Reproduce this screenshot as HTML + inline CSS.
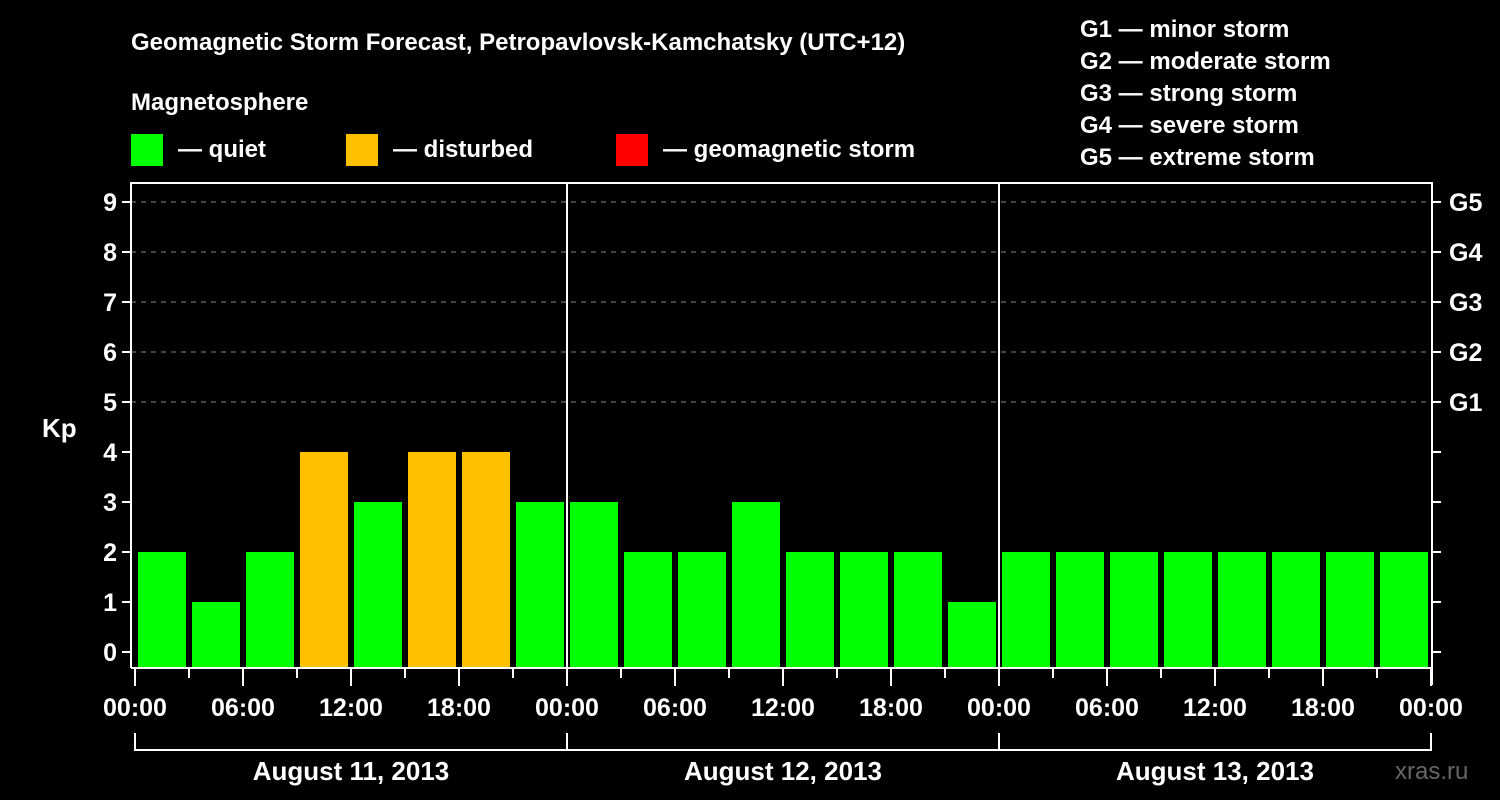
<!DOCTYPE html>
<html><head><meta charset="utf-8"><style>
html,body{margin:0;padding:0;background:#000;}
svg{display:block;font-family:"Liberation Sans",Arial,sans-serif;font-weight:bold;}
</style></head><body>
<svg id="chart" width="1500" height="800" xmlns="http://www.w3.org/2000/svg">
<rect width="1500" height="800" fill="#000"/>
<text x="131" y="50" fill="#fff" font-size="24">Geomagnetic Storm Forecast, Petropavlovsk-Kamchatsky (UTC+12)</text>
<g fill="#fff" font-size="24">
<text x="1080" y="37">G1 — minor storm</text>
<text x="1080" y="69">G2 — moderate storm</text>
<text x="1080" y="101">G3 — strong storm</text>
<text x="1080" y="133">G4 — severe storm</text>
<text x="1080" y="165">G5 — extreme storm</text>
</g>
<text x="131" y="110" fill="#fff" font-size="24">Magnetosphere</text>
<g><rect x="131" y="134" width="32" height="32" fill="#00ff00"/><text x="178" y="157" fill="#fff" font-size="24">— quiet</text></g>
<g><rect x="346" y="134" width="32" height="32" fill="#ffc000"/><text x="393" y="157" fill="#fff" font-size="24">— disturbed</text></g>
<g><rect x="616" y="134" width="32" height="32" fill="#ff0000"/><text x="663" y="157" fill="#fff" font-size="24">— geomagnetic storm</text></g>
<text x="42" y="437" fill="#fff" font-size="26">Kp</text>
<text x="1395" y="779" fill="#666" font-size="24" font-weight="normal">xras.ru</text>
<g id="plot"></g>
</svg>
<script>
const kpValues = [2,1,2,4,3,4,4,3, 3,2,2,3,2,2,2,1, 2,2,2,2,2,2,2,2];
const dayLabels = ["August 11, 2013","August 12, 2013","August 13, 2013"];
const hourLabels = ["00:00","06:00","12:00","18:00"];
const gLabels = ["G1","G2","G3","G4","G5"];
const yTicks = [0,1,2,3,4,5,6,7,8,9];

const NS="http://www.w3.org/2000/svg";
const g=document.getElementById('plot');
const X0=135, PX_PER_H=18, Y0=652, PX_PER_KP=50, TOP=183, BOTTOM=668, LEFT=131, RIGHT=1432;
const x=h=>X0+h*PX_PER_H;
const y=v=>Y0-v*PX_PER_KP;
function el(t,a){const e=document.createElementNS(NS,t);for(const k in a)e.setAttribute(k,a[k]);g.appendChild(e);return e;}
// grid
yTicks.forEach(v=>{
  if(v>=5){const l=el('line',{x1:LEFT,x2:RIGHT,y1:y(v),y2:y(v),stroke:'#888','stroke-width':1,'stroke-dasharray':'5,5'});
  
  }
  const t=el('line',{x1:LEFT-9,x2:LEFT,y1:y(v),y2:y(v),stroke:'#fff','stroke-width':2});
  
  
  const t2=el('line',{x1:RIGHT,x2:RIGHT+9,y1:y(v),y2:y(v),stroke:'#fff','stroke-width':2});
  
  
  const lb=el('text',{x:LEFT-14,y:y(v)+9,fill:'#fff','font-size':25,'text-anchor':'end'});
  lb.textContent=v;
  
  
});
gLabels.forEach((s,i)=>{
  const lb=el('text',{x:RIGHT+17,y:y(5+i)+9,fill:'#fff','font-size':25});
  lb.textContent=s;
  
  
});
// bars
kpValues.forEach((v,i)=>{
  const r=el('rect',{x:x(i*3)+3,y:y(v),width:3*PX_PER_H-6,height:BOTTOM-y(v),fill:v>=5?'#ff0000':(v>=4?'#ffc000':'#00ff00')});
  
  
});
// frame
const f=el('path',{d:`M${LEFT} ${BOTTOM} V${TOP} H${RIGHT} V${BOTTOM+17} M${LEFT} ${BOTTOM} H${RIGHT}`,fill:'none',stroke:'#fff','stroke-width':2});


dayLabels.forEach((d,di)=>{
  if(di>0){const s=el('line',{x1:x(di*24),x2:x(di*24),y1:TOP,y2:BOTTOM,stroke:'#fff','stroke-width':2});
  
  }
  const b=el('path',{d:`M${x(di*24)} 733 V750 H${x(di*24+24)} V733`,fill:'none',stroke:'#fff','stroke-width':2});
  
  
  const t=el('text',{x:x(di*24+12),y:780,fill:'#fff','font-size':26,'text-anchor':'middle'});
  t.textContent=d;
  
  
});
for(let h=0;h<=72;h+=3){
  const major=h%6===0;
  const t=el('line',{x1:x(h),x2:x(h),y1:BOTTOM,y2:major?686:678,stroke:'#fff','stroke-width':2});
  
  
  if(major){const lb=el('text',{x:x(h),y:716,fill:'#fff','font-size':25,'text-anchor':'middle'});
  lb.textContent=hourLabels[(h%24)/6];
  
  }
}
</script>
</body></html>
